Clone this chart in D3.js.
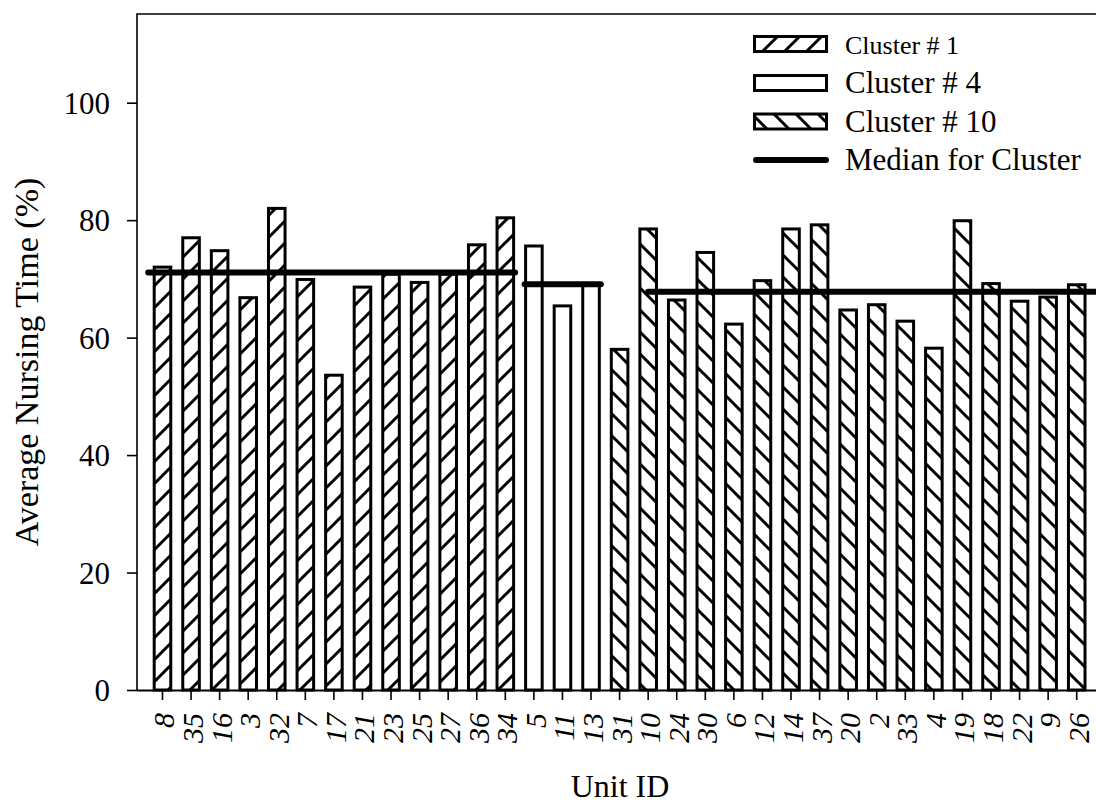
<!DOCTYPE html>
<html>
<head>
<meta charset="utf-8">
<script src="https://cdn.jsdelivr.net/npm/d3@7/dist/d3.min.js"></script>
<style>
  html, body { margin: 0; padding: 0; background: #fff; }
  svg { display: block; }
</style>
</head>
<body>
<svg id="chart" width="1096" height="804"></svg>
<script>
// ---------- data ----------
const unitIds = ["8","35","16","3","32","7","17","21","23","25","27","36","34",
                 "5","11","13",
                 "31","10","24","30","6","12","14","37","20","2","33","4","19","18","22","9","26"];
const nursingTime = [72, 77, 74.8, 66.8, 82, 69.9, 53.6, 68.6, 70.8, 69.4, 70.8, 75.8, 80.4,
                     75.6, 65.4, 69,
                     58, 78.5, 66.4, 74.5, 62.3, 69.7, 78.5, 79.2, 64.7, 65.6, 62.8, 58.2, 79.9, 69.2, 66.2, 66.9, 69];
const unitCluster = ["1","1","1","1","1","1","1","1","1","1","1","1","1",
                     "4","4","4",
                     "10","10","10","10","10","10","10","10","10","10","10","10","10","10","10","10","10"];
const clusterNames = ["1", "4", "10"];
const medianValues = [71.1, 69.1, 67.8];
const medianStartUnit = ["8", "5", "10"];
const medianEndUnit = ["34", "13", "26"];
const yTicks = [0, 20, 40, 60, 80, 100];
const legendLabels = ["Cluster # 1", "Cluster # 4", "Cluster # 10", "Median for Cluster"];

// ---------- layout ----------
const svg = d3.select("#chart");
const font = "'Liberation Serif', 'Times New Roman', serif";
const plotLeft = 137, plotTop = 14, plotBottom = 690;

const x = d3.scaleBand().domain(unitIds).range([148.2, 1091.0]).paddingInner(0.42).paddingOuter(0.21);
const y = d3.scaleLinear().domain([0, 115.1]).range([plotBottom, plotTop]);
const bw = x.bandwidth();

// patterns
const defs = svg.append("defs");
const fwd = defs.append("pattern").attr("id", "hatchFwd").attr("patternUnits", "userSpaceOnUse")
  .attr("width", 22).attr("height", 22);
fwd.append("rect").attr("width", 22).attr("height", 22).attr("fill", "#fff");
fwd.append("path").attr("d", "M-3,3 L3,-3 M0,22 L22,0 M19,25 L25,19")
  .attr("stroke", "#000").attr("stroke-width", 3);
const bck = defs.append("pattern").attr("id", "hatchBck").attr("patternUnits", "userSpaceOnUse")
  .attr("width", 22).attr("height", 22);
bck.append("rect").attr("width", 22).attr("height", 22).attr("fill", "#fff");
bck.append("path").attr("d", "M0,0 L22,22 M-3,19 L3,25 M19,-3 L25,3")
  .attr("stroke", "#000").attr("stroke-width", 3);

const fillFor = c => c === "1" ? "url(#hatchFwd)" : (c === "10" ? "url(#hatchBck)" : "#fff");

// frame
svg.append("path")
  .attr("d", `M${plotLeft},${plotBottom} L${plotLeft},${plotTop} L1100,${plotTop}`)
  .attr("fill", "none").attr("stroke", "#000").attr("stroke-width", 1.6);

// y axis
const yAxis = svg.append("g").attr("transform", `translate(${plotLeft},0)`)
  .call(d3.axisLeft(y).tickValues(yTicks).tickSize(10).tickPadding(17));
yAxis.select(".domain").remove();
yAxis.selectAll("line").attr("stroke", "#000").attr("stroke-width", 1.6);
yAxis.selectAll("text").attr("font-family", font).attr("font-size", 31).attr("fill", "#000")
  .attr("dy", "0.34em");

// bars
const rows = unitIds.map((u, i) => ({ u, v: nursingTime[i], c: unitCluster[i] }));
svg.append("g").selectAll("rect").data(rows).join("rect")
  .attr("x", d => x(d.u)).attr("y", d => y(d.v))
  .attr("width", bw).attr("height", d => y(0) - y(d.v))
  .attr("fill", d => fillFor(d.c))
  .attr("stroke", "#000").attr("stroke-width", 3);

// x axis
const xAxis = svg.append("g").attr("transform", `translate(0,${plotBottom})`)
  .call(d3.axisBottom(x).tickSize(10).tickSizeOuter(0));
xAxis.select(".domain").attr("d", `M${plotLeft},0.5 L1100,0.5`).attr("stroke", "#000").attr("stroke-width", 2);
xAxis.selectAll("line").attr("stroke", "#000").attr("stroke-width", 1.6);
xAxis.selectAll("text")
  .attr("font-family", font).attr("font-size", 30).attr("font-style", "italic").attr("fill", "#000")
  .attr("text-anchor", "end").attr("dy", 0)
  .attr("transform", "rotate(-90)").attr("x", -23).attr("y", 12);

// median lines
clusterNames.forEach((c, i) => {
  let x1;
  if (i === 0) x1 = x(medianStartUnit[i]) - 6;
  else if (i === 1) x1 = x(medianStartUnit[i]) - 1;
  else x1 = x(medianStartUnit[i]) + bw / 2;
  const x2 = (i === 2) ? 1110 : x(medianEndUnit[i]) + bw + 1.5;
  svg.append("line")
    .attr("x1", x1).attr("x2", x2).attr("y1", y(medianValues[i])).attr("y2", y(medianValues[i]))
    .attr("stroke", "#000").attr("stroke-width", 6).attr("stroke-linecap", "round");
});

// axis titles
svg.append("text").attr("transform", `translate(38,362) rotate(-90)`)
  .attr("text-anchor", "middle").attr("font-family", font).attr("font-size", 34).attr("fill", "#000")
  .text("Average Nursing Time (%)");
svg.append("text").attr("x", 620).attr("y", 797)
  .attr("text-anchor", "middle").attr("font-family", font).attr("font-size", 32).attr("fill", "#000")
  .text("Unit ID");

// legend
const legendY = [44, 83, 121.5, 160];
const legendFont = [26, 31, 31, 31];
const lg = svg.append("g");
legendLabels.forEach((lab, i) => {
  const cy = legendY[i];
  if (i < 3) {
    lg.append("rect").attr("x", 754.5).attr("y", cy - 7.5).attr("width", 72).attr("height", 15)
      .attr("fill", fillFor(clusterNames[i])).attr("stroke", "#000").attr("stroke-width", 3);
  } else {
    lg.append("line").attr("x1", 756).attr("x2", 826).attr("y1", cy).attr("y2", cy)
      .attr("stroke", "#000").attr("stroke-width", 6).attr("stroke-linecap", "round");
  }
  lg.append("text").attr("x", 845).attr("y", cy + 10)
    .attr("font-family", font).attr("font-size", legendFont[i]).attr("fill", "#000").text(lab);
});
</script>
</body>
</html>
